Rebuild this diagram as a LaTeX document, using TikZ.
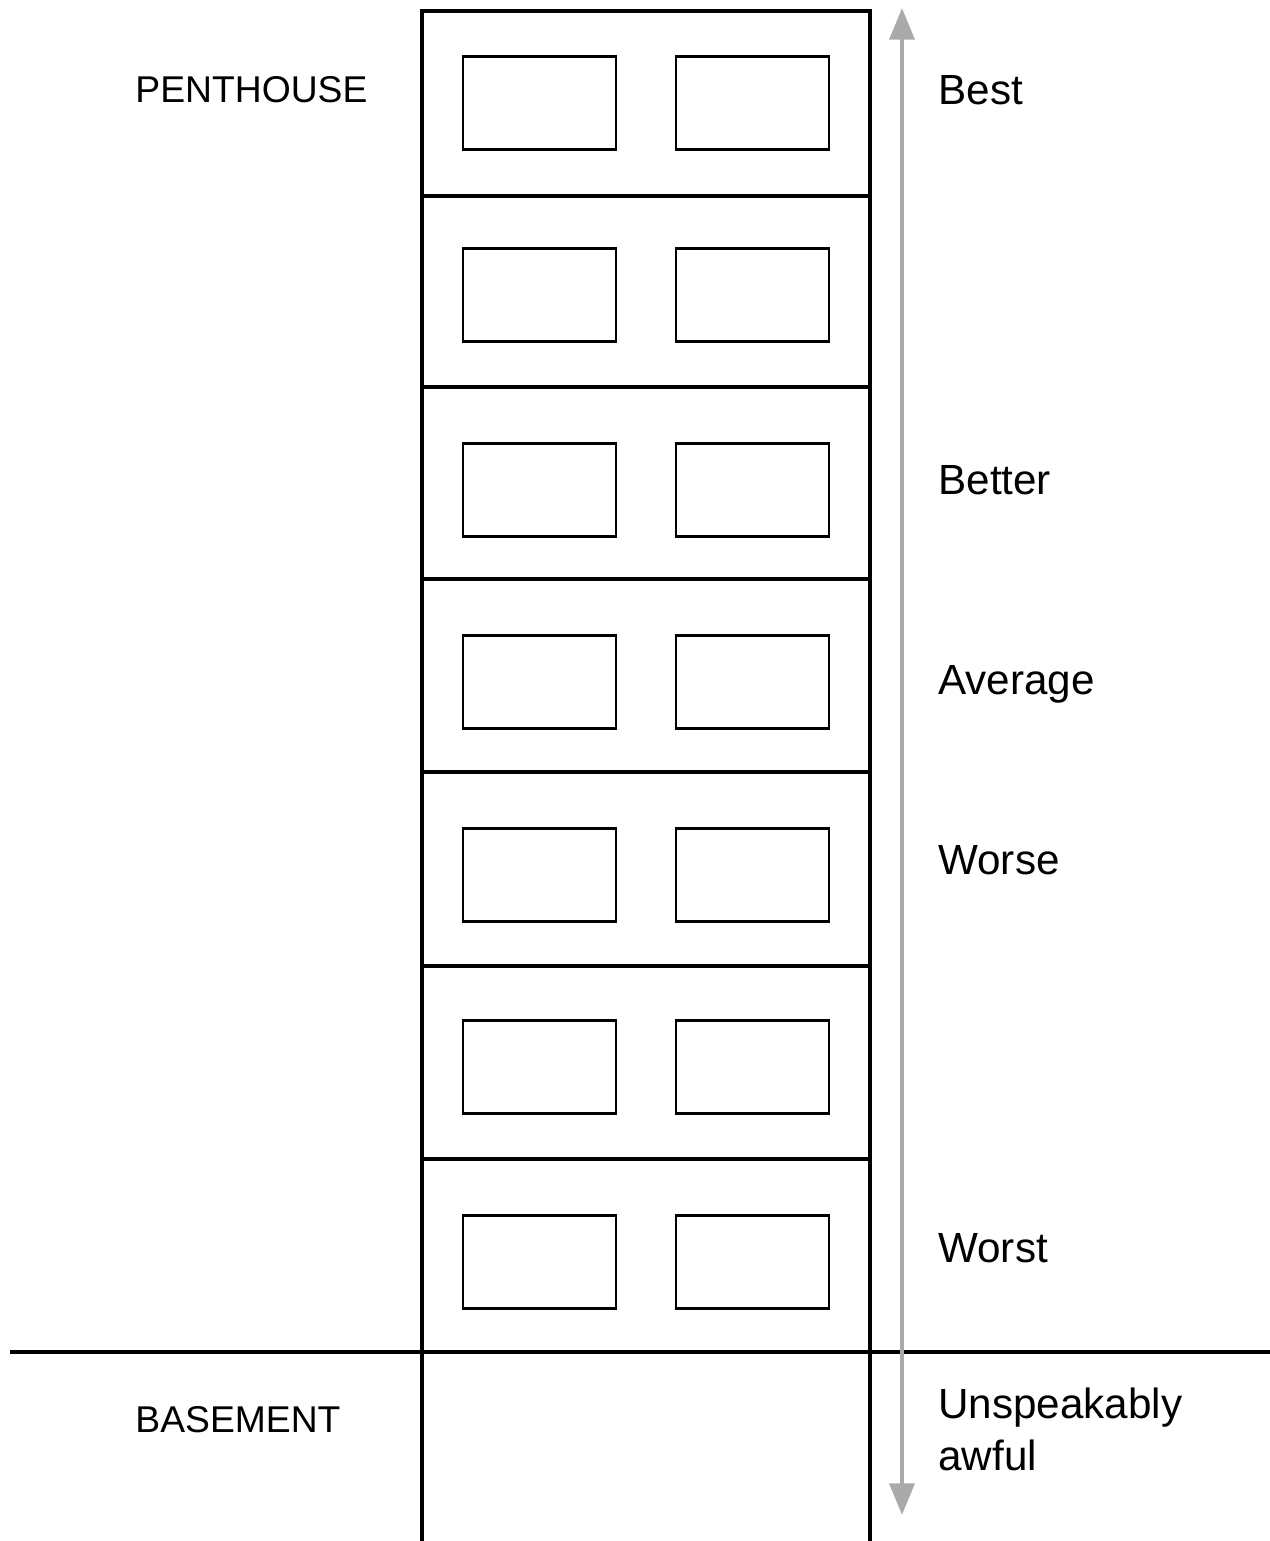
\documentclass[tikz,border=0pt]{standalone}
\usepackage{fontspec}
\setmainfont{Liberation Sans}
\usetikzlibrary{arrows.meta}
\definecolor{scalegray}{RGB}{170,170,172}
\tikzset{
  wall/.style={line width=1.15pt},
  window/.style={line width=0.85pt},
  ground/.style={line width=1.4pt},
  scalearrow/.style={scalegray,line width=1.4pt,{Triangle[length=9pt,width=7pt]}-{Triangle[length=9pt,width=7pt]}},
  floorname/.style={anchor=west,font=\fontsize{10.6pt}{13pt}\selectfont},
  rating/.style={anchor=west,align=left,font=\fontsize{12pt}{14.8pt}\selectfont}
}
\begin{document}
\begin{tikzpicture}[x=0.01cm,y=-0.01cm]
  \useasboundingbox (0,0) rectangle (1270,1541);
  % the building
  \draw[wall] (422,1541) -- (422,11) -- (870,11) -- (870,1541);
  \foreach \y in {196,387,579,772,966,1159}
    \draw[wall] (422,\y) -- (870,\y);
  \draw[ground] (10,1352) -- (1270,1352);
  % windows
  \foreach \t in {56,248,443,635,828,1020,1215} {
    \draw[window] (463,\t) rectangle (616,\t+93);
    \draw[window] (676,\t) rectangle (829,\t+93);
  }
  % the scale
  \coordinate (top) at (902,8);
  \coordinate (bottom) at (902,1515);
  \draw[scalearrow] (bottom) -- (top);
  \node[floorname] (penthouse) at (123,90) {PENTHOUSE};
  \node[floorname] (basement) at (123,1420) {BASEMENT};
  \node[rating] (best) at (926,90) {Best};
  \node[rating] (better) at (926,480) {Better};
  \node[rating] (average) at (926,684) {Average};
  \node[rating] (worse) at (926,860) {Worse};
  \node[rating] (worst) at (926,1248) {Worst};
  \node[rating] (awful) at (926,1429) {Unspeakably\\awful};
\end{tikzpicture}
\end{document}
